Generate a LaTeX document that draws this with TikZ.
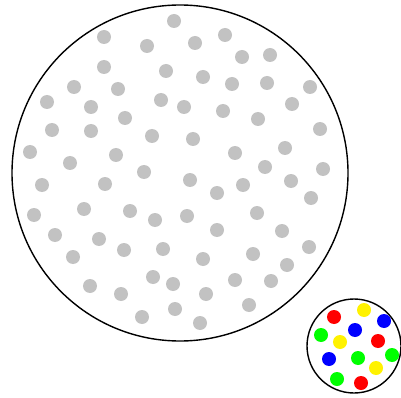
\documentclass[tikz,border=0pt]{standalone}
\usepackage{tikz}

\begin{document}
\begin{tikzpicture}[x=1pt, y=-1pt,
    grain/.style={fill=black!24, draw=none},
    vessel/.style={draw=black, line width=1.4pt}]
  \useasboundingbox (0,0) rectangle (401,398);
  % large container with grey particles
  \draw[vessel] (180,173) circle (168);
  \foreach \x/\y in {174/21, 104/37, 147/46, 195/43, 225/35, 242/57, 270/55,
      104/67, 166/71, 203/77, 232/84, 267/83, 310/87, 74/87, 118/89,
      47/102, 161/100, 91/107, 184/107, 223/111, 258/119, 292/104, 125/118,
      52/130, 91/131, 152/136, 193/139, 320/129, 30/152, 116/155, 70/163,
      144/172, 235/153, 285/148, 265/167, 323/169, 42/185, 105/184, 190/180,
      217/193, 243/185, 291/181, 311/198, 34/215, 84/209, 130/211, 155/220,
      187/216, 257/213, 55/235, 99/239, 124/250, 163/249, 217/230, 282/231,
      309/247, 73/257, 203/259, 253/254, 287/265, 153/277, 173/284, 90/286,
      121/294, 206/294, 235/280, 271/281, 175/309, 142/317, 200/323, 249/305}
    \fill[grain] (\x,\y) circle (7);
  % small container with coloured particles
  \draw[vessel] (354,346) circle (47);
  \foreach \x/\y/\c in {334/317/red, 364/310/yellow, 384/321/blue,
      321/335/green, 355/330/blue, 340/342/yellow, 378/341/red,
      329/359/blue, 358/358/green, 392/355/green, 376/368/yellow,
      337/379/green, 361/383/red}
    \fill[\c] (\x,\y) circle (7);
\end{tikzpicture}
\end{document}
